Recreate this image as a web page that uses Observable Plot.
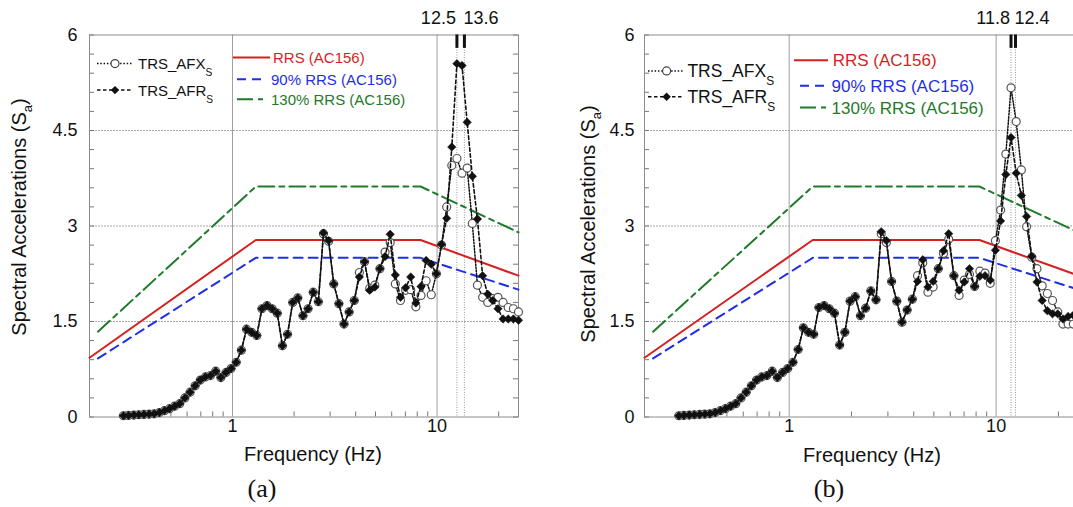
<!DOCTYPE html>
<html><head><meta charset="utf-8">
<script src="https://cdn.jsdelivr.net/npm/d3@7"></script>
<script src="https://cdn.jsdelivr.net/npm/@observablehq/plot@0.6"></script>
<style>
html,body{margin:0;padding:0;background:#fff;}
#wrap{position:relative;width:1073px;height:507px;overflow:hidden;background:#fff;}
.panel{position:absolute;top:0;width:560px;}
.panel svg{max-width:none !important;}
.cap{position:absolute;font-family:"Liberation Serif","Times New Roman",serif;font-size:26px;color:#111;transform:translate(-50%,-50%);line-height:1;}
</style></head><body>
<div id="wrap">
  <div id="pa" class="panel" style="left:0px"></div>
  <div id="pb" class="panel" style="left:555px"></div>
  <div class="cap" style="left:262px;top:489px">(a)</div>
  <div class="cap" style="left:829px;top:489px">(b)</div>
</div>
<script>
// ---------- data ----------
const freq = [0.293,0.310,0.329,0.348,0.369,0.391,0.414,0.439,0.465,0.492,0.521,0.552,0.585,0.620,0.657,0.696,0.737,0.781,0.828,0.877,0.929,0.984,
  1.043,1.105,1.171,1.240,1.314,1.392,1.475,1.563,1.655,1.754,1.858,1.969,2.086,2.210,2.341,2.480,2.628,2.784,2.950,3.125,3.311,3.508,3.716,3.937,
  4.171,4.419,4.682,4.961,5.256,5.568,5.899,6.250,6.622,7.016,7.433,7.875,8.343,8.839,9.364,9.921,10.51,11.14,11.80,12.50,13.24,14.03,14.87,15.75,
  16.69,17.68,18.73,19.84,21.02,22.27,23.60,25.00];

const afrA = [0.02,0.025,0.03,0.035,0.04,0.045,0.05,0.07,0.10,0.13,0.17,0.21,0.30,0.39,0.49,0.58,0.63,0.65,0.72,0.62,0.70,0.76,
  0.86,1.05,1.38,1.33,1.28,1.70,1.75,1.70,1.63,1.12,1.30,1.80,1.87,1.59,1.70,1.96,1.81,2.89,2.77,2.09,1.78,1.46,1.65,1.83,
  2.20,2.44,1.99,2.04,2.33,2.52,2.87,2.23,1.88,2.03,2.20,1.79,2.05,2.46,2.40,2.25,2.71,3.12,4.24,5.55,5.52,4.63,3.78,3.11,
  2.22,1.93,1.83,1.70,1.54,1.54,1.54,1.52];
const afxA = [0.02,0.025,0.03,0.035,0.04,0.045,0.05,0.07,0.10,0.13,0.17,0.21,0.30,0.39,0.49,0.58,0.63,0.65,0.72,0.62,0.70,0.76,
  0.86,1.05,1.38,1.33,1.28,1.70,1.75,1.70,1.63,1.12,1.30,1.80,1.87,1.59,1.70,1.96,1.81,2.88,2.76,2.09,1.78,1.46,1.65,1.83,
  2.27,2.44,2.02,2.07,2.33,2.59,2.74,2.09,1.83,1.99,2.00,1.73,1.91,2.14,1.92,2.25,2.70,3.30,3.95,4.06,3.83,3.91,3.04,2.07,
  1.88,1.80,1.86,1.88,1.80,1.72,1.70,1.65];

const afrB = [0.02,0.025,0.03,0.035,0.04,0.045,0.05,0.07,0.10,0.13,0.17,0.21,0.30,0.39,0.49,0.58,0.63,0.65,0.72,0.62,0.70,0.76,
  0.86,1.06,1.40,1.33,1.30,1.72,1.75,1.70,1.63,1.13,1.33,1.82,1.89,1.59,1.71,1.98,1.84,2.91,2.77,2.13,1.82,1.49,1.68,1.85,
  2.13,2.47,2.04,2.13,2.33,2.61,2.88,2.22,1.99,2.12,2.33,2.05,2.21,2.22,2.15,2.62,3.08,3.81,4.39,3.83,3.48,3.15,2.52,2.12,
  1.83,1.67,1.62,1.62,1.54,1.58,1.60,1.60];
const afxB = [0.02,0.025,0.03,0.035,0.04,0.045,0.05,0.07,0.10,0.13,0.17,0.21,0.30,0.39,0.49,0.58,0.63,0.65,0.72,0.62,0.70,0.76,
  0.86,1.06,1.40,1.33,1.30,1.72,1.75,1.70,1.63,1.13,1.33,1.82,1.89,1.59,1.71,1.98,1.84,2.88,2.74,2.13,1.82,1.49,1.68,1.85,
  2.22,2.42,1.96,2.04,2.33,2.57,2.79,2.22,1.91,2.15,2.24,2.05,2.29,2.26,2.10,2.77,3.25,4.13,5.17,4.64,3.88,2.99,2.51,2.33,
  2.06,1.94,1.83,1.65,1.46,1.46,1.46,1.46];

// required response spectrum (AC156) and its 90% / 130% envelopes
const rrsFreq = [0.2, 1.3, 8.3, 25];
const rrsVal = [0.93, 2.78, 2.78, 2.22];
const rrs90Freq = [0.22, 1.3, 8.3, 25];
const rrs90Val = [0.92, 2.50, 2.50, 2.00];
const rrs130Freq = [0.22, 1.3, 8.3, 25];
const rrs130Val = [1.34, 3.62, 3.62, 2.90];

const peaksA = [12.5, 13.6];
const peaksB = [11.8, 12.4];

const yTicks = [0, 1.5, 3, 4.5, 6];
const yTickLabels = ["0", "1.5", "3", "4.5", "6"];
const xTicks = [1, 10];
const xTickLabels = ["1", "10"];
const yGrid = [1.5, 3, 4.5];
const xGrid = [1, 10];
const xMinor = [0.3,0.4,0.5,0.6,0.7,0.8,0.9,2,3,4,5,6,7,8,9,20];
const yMinor = d3.range(0, 6.0001, 0.3);

// ---------- style ----------
const FONT = '"Liberation Sans", Arial, Helvetica, sans-serif';
const RED = "#d61f1f", BLUE = "#1f2fe3", GREEN = "#1f7a2a";
const H = 470, MT = 34.5, MB = 53.5;

function zip(fs, vs) { return fs.map((f, i) => ({f, v: vs[i]})); }

function decorations(cfg) {
  return (index, scales, values, dim) => {
    const g = d3.create("svg:g").attr("font-family", FONT).attr("fill", "#111").attr("text-anchor", "start");
    const L = cfg.legend, ml = dim.marginLeft, mt = dim.marginTop;
    // TRS legend
    const rowsT = [
      {label: "TRS_AFX", dash: "1.5,1.8", mark: "circle"},
      {label: "TRS_AFR", dash: "3.5,2.5", mark: "diamond"}
    ];
    rowsT.forEach((r, k) => {
      const y = mt + L.trsRows[k];
      g.append("line").attr("x1", ml + L.trsX0).attr("x2", ml + L.trsX1).attr("y1", y).attr("y2", y)
        .attr("stroke", "#111").attr("stroke-width", 1.5).attr("stroke-dasharray", r.dash);
      if (r.mark === "circle") {
        g.append("circle").attr("cx", ml + L.trsMarkX).attr("cy", y).attr("r", 4)
          .attr("fill", "#fff").attr("stroke", "#444").attr("stroke-width", 1.2);
      } else {
        g.append("path").attr("d", d3.symbol(d3.symbolDiamond2, 45)())
          .attr("transform", `translate(${ml + L.trsMarkX},${y})`).attr("fill", "#111");
      }
      const t = g.append("text").attr("x", ml + L.trsTextX).attr("y", y).attr("dy", "0.36em")
        .attr("font-size", L.trsFont);
      t.append("tspan").text(r.label);
      t.append("tspan").attr("font-size", L.trsFont * 0.68).attr("dy", L.trsFont * 0.47).text("S");
    });
    // RRS legend
    const rowsR = [
      {label: "RRS (AC156)", color: RED, dash: null},
      {label: "90% RRS (AC156)", color: BLUE, dash: "9,6"},
      {label: "130% RRS (AC156)", color: GREEN, dash: "16,5,5,5"}
    ];
    rowsR.forEach((r, k) => {
      const y = mt + L.rrsRows[k];
      const ln = g.append("line").attr("x1", ml + L.rrsLine[k][0]).attr("x2", ml + L.rrsLine[k][1])
        .attr("y1", y).attr("y2", y).attr("stroke", r.color).attr("stroke-width", 2);
      if (r.dash) ln.attr("stroke-dasharray", r.dash);
      g.append("text").attr("x", ml + L.rrsText[k]).attr("y", y).attr("dy", "0.36em")
        .attr("font-size", L.rrsFont).attr("fill", r.color).text(r.label);
    });
    // y title
    const yt = g.append("text").attr("transform", `translate(${ml + cfg.yTitle.dx},${cfg.yTitle.cy}) rotate(-90)`)
      .attr("text-anchor", "middle").attr("dy", "0.35em").attr("font-size", 20);
    yt.append("tspan").text("Spectral Accelerations (S");
    yt.append("tspan").attr("font-size", 13).attr("dy", 6).text("a");
    yt.append("tspan").attr("dy", -6).text(")");
    // x title
    g.append("text").attr("x", ml + cfg.xTitle.dx).attr("y", cfg.xTitle.y)
      .attr("text-anchor", "middle").attr("font-size", 20).text("Frequency (Hz)");
    return g.node();
  };
}

function panel(cfg) {
  const rows = freq.map((f, i) => ({f, afx: cfg.afx[i], afr: cfg.afr[i]}));
  const pw = cfg.pw, ph = H - MT - MB;
  return Plot.plot({
    width: cfg.ml + pw + cfg.mr, height: H,
    marginLeft: cfg.ml, marginRight: cfg.mr, marginTop: MT, marginBottom: MB,
    style: {fontFamily: FONT, fontSize: "17px", color: "#111", background: "transparent", overflow: "visible", maxWidth: "none"},
    x: {type: "log", domain: [0.2, 25], axis: null},
    y: {domain: [0, 6], axis: null},
    marks: [
      Plot.ruleY(yGrid, {stroke: "#a8a8a8", strokeWidth: 1, strokeDasharray: "2,1"}),
      Plot.ruleX(xGrid, {stroke: "#a0a0a0", strokeWidth: 1}),
      Plot.ruleX(cfg.peaks, {stroke: "#999", strokeWidth: 1, strokeDasharray: "1,1.5"}),
      Plot.ruleY(yMinor, {insetRight: pw - 5, stroke: "#777"}),
      Plot.ruleY(yMinor, {insetLeft: pw - 5, stroke: "#777"}),
      Plot.ruleX(xMinor, {insetTop: ph - 5, stroke: "#777"}),
      Plot.frame({stroke: "#8c8c8c", strokeWidth: 1}),
      Plot.line(zip(rrsFreq, rrsVal), {x: "f", y: "v", stroke: RED, strokeWidth: 2}),
      Plot.line(zip(rrs90Freq, rrs90Val), {x: "f", y: "v", stroke: BLUE, strokeWidth: 2, strokeDasharray: "9,6"}),
      Plot.line(zip(rrs130Freq, rrs130Val), {x: "f", y: "v", stroke: GREEN, strokeWidth: 2, strokeDasharray: "16,5,5,5"}),
      Plot.line(rows, {x: "f", y: "afx", stroke: "#111", strokeWidth: 1.5, strokeDasharray: "1.5,1.6"}),
      Plot.dot(rows, {x: "f", y: "afx", r: 4, fill: "white", stroke: "#555", strokeWidth: 1.2}),
      Plot.line(rows, {x: "f", y: "afr", stroke: "#111", strokeWidth: 1.6, strokeDasharray: "3.5,2.5"}),
      Plot.dot(rows, {x: "f", y: "afr", symbol: "diamond2", r: 3.8, fill: "#111", stroke: "#111", strokeWidth: 0.5}),
      Plot.ruleX(cfg.peaks, {y1: 6, y2: 5.79, stroke: "#111", strokeWidth: 3}),
      Plot.text([cfg.peaks[0]], {x: d => d, y: 6, dy: -17, dx: -1, text: d => String(d), textAnchor: "end", fontSize: 18}),
      Plot.text([cfg.peaks[1]], {x: d => d, y: 6, dy: -17, dx: -1, text: d => String(d), textAnchor: "start", fontSize: 18}),
      Plot.text(yTicks, {y: d => d, text: (d, i) => yTickLabels[i], frameAnchor: "left", textAnchor: "end", dx: cfg.ytdx, fontSize: 18}),
      Plot.text(xTicks, {x: d => d, text: (d, i) => xTickLabels[i], frameAnchor: "bottom", dy: 15, fontSize: 18}),
      decorations(cfg)
    ]
  });
}

const cfgA = {
  ml: 89, pw: 429, mr: 19, afx: afxA, afr: afrA, peaks: peaksA, ytdx: -12,
  legend: {trsX0: 8, trsX1: 43, trsMarkX: 26, trsTextX: 49, trsRows: [29.1, 55.6], trsFont: 15,
           rrsRows: [23, 44.8, 64.7], rrsLine: [[144, 181], [148, 174], [148, 174]], rrsText: [184, 182, 182], rrsFont: 15},
  yTitle: {dx: -70, cy: 217}, xTitle: {dx: 224, y: 461}
};
const cfgB = {
  ml: 89, pw: 434, mr: 19, afx: afxB, afr: afrB, peaks: peaksB, ytdx: -10,
  legend: {trsX0: 4, trsX1: 40, trsMarkX: 22.6, trsTextX: 43.4, trsRows: [36.4, 62.3], trsFont: 17.5,
           rrsRows: [25.7, 51.3, 72.9], rrsLine: [[150, 184], [156, 183.5], [156, 183.5]], rrsText: [188.7, 187.6, 187.6], rrsFont: 17},
  yTitle: {dx: -56, cy: 224}, xTitle: {dx: 228, y: 462}
};

document.getElementById("pa").appendChild(panel(cfgA));
document.getElementById("pb").appendChild(panel(cfgB));
</script>
</body></html>
